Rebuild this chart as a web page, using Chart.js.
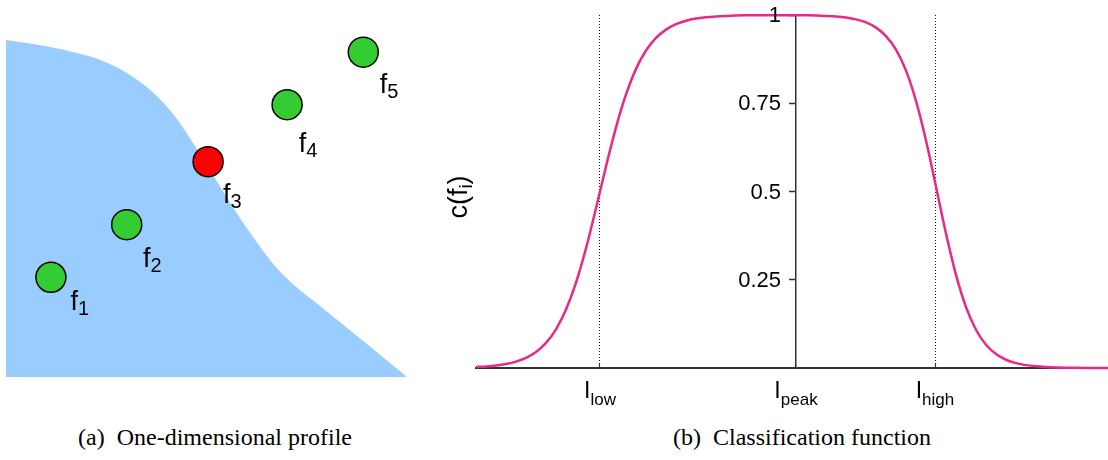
<!DOCTYPE html>
<html><head><meta charset="utf-8">
<script src="https://cdn.jsdelivr.net/npm/chart.js@4"></script>
<style>
html,body{margin:0;padding:0;background:#fff;width:1108px;height:460px;overflow:hidden;}
#a{position:absolute;left:0;top:0;}
#b{position:absolute;left:420px;top:0;}
.cap{position:absolute;top:424px;line-height:26px;font-family:"Liberation Serif","Times New Roman",serif;font-size:24px;color:#000;white-space:nowrap;transform:translateX(-50%);}
</style></head><body>
<canvas id="a" width="420" height="400"></canvas>
<canvas id="b" width="688" height="420"></canvas>
<div class="cap" style="left:215px">(a)&nbsp; One-dimensional profile</div>
<div class="cap" style="left:802px">(b)&nbsp; Classification function</div>
<script>
// ---------- Panel (a): one-dimensional profile ----------
const profileX = [0, 1.35, 2.59, 3.47, 4.21, 4.96, 5.66, 6.21, 6.71, 7.21, 7.83, 9.00, 10];
const profileY = [10, 9.73, 9.29, 8.64, 7.74, 6.38, 5.04, 4.07, 3.29, 2.70, 2.11, 0.98, 0];
const featureNames = ['f', 'f', 'f', 'f', 'f'];
const featureSubs = ['1', '2', '3', '4', '5'];
const featureX = [1.12, 3.01, 5.04, 7.01, 8.91];
const featureY = [2.96, 4.52, 6.39, 8.08, 9.64];

// ---------- Panel (b): classification function ----------
const curveX = [-32,-31,-30,-29,-28,-27,-26,-25,-24,-23,-22,-21,-20,-19,-18,-17,-16,-15,-14,-13,-12,-11,-10,-9,-8,-7,-6,-5,-4,-3,-2,-1,0,1,2,3,4,5,6,7,8,9,10,11,12,13,14,15,16,17,18,19,20,21,22,23,24,25,26,27,28,29,30,31,31.2];
const curveY = [0.0027,0.0044,0.0070,0.0113,0.0180,0.0286,0.0453,0.0710,0.1096,0.1654,0.2418,0.3392,0.4526,0.5710,0.6818,0.7752,0.8474,0.8994,0.9350,0.9586,0.9739,0.9836,0.9898,0.9936,0.9960,0.9975,0.9985,0.9990,0.9993,0.9995,0.9996,0.9996,0.9994,0.9991,0.9986,0.9975,0.9958,0.9928,0.9876,0.9789,0.9643,0.9403,0.9017,0.8424,0.7567,0.6445,0.5135,0.3808,0.2637,0.1725,0.1083,0.0660,0.0396,0.0234,0.0138,0.0081,0.0047,0.0028,0.0016,0.0009,0.0005,0.0003,0.0002,0.0001,0.0001];
const xTickValues = [-19.6, 0, 13.9];
const xTickMain = ['I', 'I', 'I'];
const xTickSub = ['low', 'peak', 'high'];
const yTickValues = [0.25, 0.5, 0.75, 1];
const yTickLabels = ['0.25', '0.5', '0.75', '1'];
const yTitleMain = 'c(f';
const yTitleSub = 'i';
const yTitleEnd = ')';

// ---------- styles ----------
const SANS = '"Liberation Sans", Arial, Helvetica, sans-serif';
const featureFill = ['#33cc33', '#33cc33', '#ff0000', '#33cc33', '#33cc33'];
const labelOffsets = [[20.7, 32.7], [17.3, 42.6], [16, 41.3], [12.7, 47.3], [17.4, 41]];

const featureLabelPlugin = {
  id: 'featureLabels',
  afterDatasetsDraw(chart) {
    const {ctx, scales} = chart;
    ctx.save();
    ctx.fillStyle = '#000';
    ctx.textBaseline = 'alphabetic';
    ctx.textAlign = 'left';
    featureX.forEach((fx, i) => {
      const px = scales.x.getPixelForValue(fx) + labelOffsets[i][0];
      const py = scales.y.getPixelForValue(featureY[i]) + labelOffsets[i][1];
      ctx.font = '27px ' + SANS;
      ctx.fillText(featureNames[i], px - 1, py);
      const w = ctx.measureText(featureNames[i]).width;
      ctx.font = '20px ' + SANS;
      ctx.fillText(featureSubs[i], px - 1 + w, py + 5);
    });
    ctx.restore();
  }
};

new Chart(document.getElementById('a'), {
  type: 'scatter',
  data: {
    datasets: [
      {
        type: 'line',
        data: profileX.map((x, i) => ({x, y: profileY[i]})),
        fill: 'origin',
        backgroundColor: '#99ccff',
        borderColor: 'rgba(0,0,0,0)',
        borderWidth: 0,
        pointRadius: 0,
        cubicInterpolationMode: 'monotone',
        order: 2
      },
      {
        data: featureX.map((x, i) => ({x, y: featureY[i]})),
        pointRadius: 15,
        pointBackgroundColor: featureFill,
        pointBorderColor: '#000',
        pointBorderWidth: 1.5,
        clip: false,
        order: 1
      }
    ]
  },
  options: {
    responsive: false,
    animation: false,
    events: [],
    layout: {autoPadding: false, padding: {left: 6, right: 13, top: 40, bottom: 23}},
    scales: {
      x: {type: 'linear', min: 0, max: 10, display: false},
      y: {type: 'linear', min: 0, max: 10, display: false}
    },
    plugins: {legend: {display: false}, tooltip: {enabled: false}}
  },
  plugins: [featureLabelPlugin]
});

const subLabelPlugin = {
  id: 'subLabels',
  afterDraw(chart) {
    const {ctx, scales} = chart;
    ctx.save();
    ctx.fillStyle = '#000';
    // y tick labels, left of the central axis
    ctx.font = '22px ' + SANS;
    ctx.textAlign = 'right';
    ctx.textBaseline = 'middle';
    const axisX = scales.x.getPixelForValue(0);
    yTickValues.forEach((v, i) => {
      ctx.fillText(yTickLabels[i], axisX - 15, scales.y.getPixelForValue(v) + 1);
    });
    ctx.textBaseline = 'alphabetic';
    ctx.textAlign = 'left';
    // x tick labels with subscripts
    xTickValues.forEach((v, i) => {
      const px = scales.x.getPixelForValue(v);
      ctx.font = '23px ' + SANS;
      const wm = ctx.measureText(xTickMain[i]).width;
      ctx.font = '17px ' + SANS;
      const ws = ctx.measureText(xTickSub[i]).width;
      const start = px - (wm + ws) / 2;
      ctx.font = '23px ' + SANS;
      ctx.fillText(xTickMain[i], start, 398);
      ctx.font = '17px ' + SANS;
      ctx.fillText(xTickSub[i], start + wm, 405);
    });
    // y axis title, rotated
    ctx.translate(47, 197);
    ctx.rotate(-Math.PI / 2);
    ctx.font = '27px ' + SANS;
    const w1 = ctx.measureText(yTitleMain).width;
    const w3 = ctx.measureText(yTitleEnd).width;
    ctx.font = '19px ' + SANS;
    const w2 = ctx.measureText(yTitleSub).width;
    let s = -(w1 + w2 + w3) / 2;
    ctx.font = '27px ' + SANS;
    ctx.fillText(yTitleMain, s, 0);
    ctx.font = '19px ' + SANS;
    ctx.fillText(yTitleSub, s + w1, 5);
    ctx.font = '27px ' + SANS;
    ctx.fillText(yTitleEnd, s + w1 + w2, 0);
    ctx.restore();
  }
};

new Chart(document.getElementById('b'), {
  type: 'line',
  data: {
    datasets: [{
      data: curveX.map((x, i) => ({x, y: curveY[i]})),
      borderColor: '#E7298A',
      borderWidth: 2.5,
      pointRadius: 0,
      fill: false,
      clip: 4,
      cubicInterpolationMode: 'monotone'
    }]
  },
  options: {
    responsive: false,
    animation: false,
    events: [],
    layout: {autoPadding: false, padding: {left: 56, right: 0, top: 15, bottom: 52}},
    scales: {
      x: {
        type: 'linear', min: -32, max: 31.2, position: {y: 0},
        afterBuildTicks: ax => { ax.ticks = xTickValues.map(v => ({value: v})); },
        ticks: {display: false},
        grid: {
          drawTicks: true, tickLength: -5, tickColor: '#333', tickWidth: 1.2, tickBorderDash: [],
          lineWidth: 1,
          color: c => (c.tick && c.tick.value === 0) ? 'rgba(0,0,0,0)' : '#111'
        },
        border: {display: true, color: '#333', width: 2, dash: [1, 2]}
      },
      y: {
        type: 'linear', min: 0, max: 1, position: {x: 0},
        afterBuildTicks: ax => { ax.ticks = yTickValues.map(v => ({value: v})); },
        ticks: {display: false},
        grid: {drawOnChartArea: false, tickLength: 6, tickColor: '#333', tickWidth: 1.5},
        border: {color: '#333', width: 1.5}
      }
    },
    plugins: {legend: {display: false}, tooltip: {enabled: false}}
  },
  plugins: [subLabelPlugin]
});
</script>
</body></html>
